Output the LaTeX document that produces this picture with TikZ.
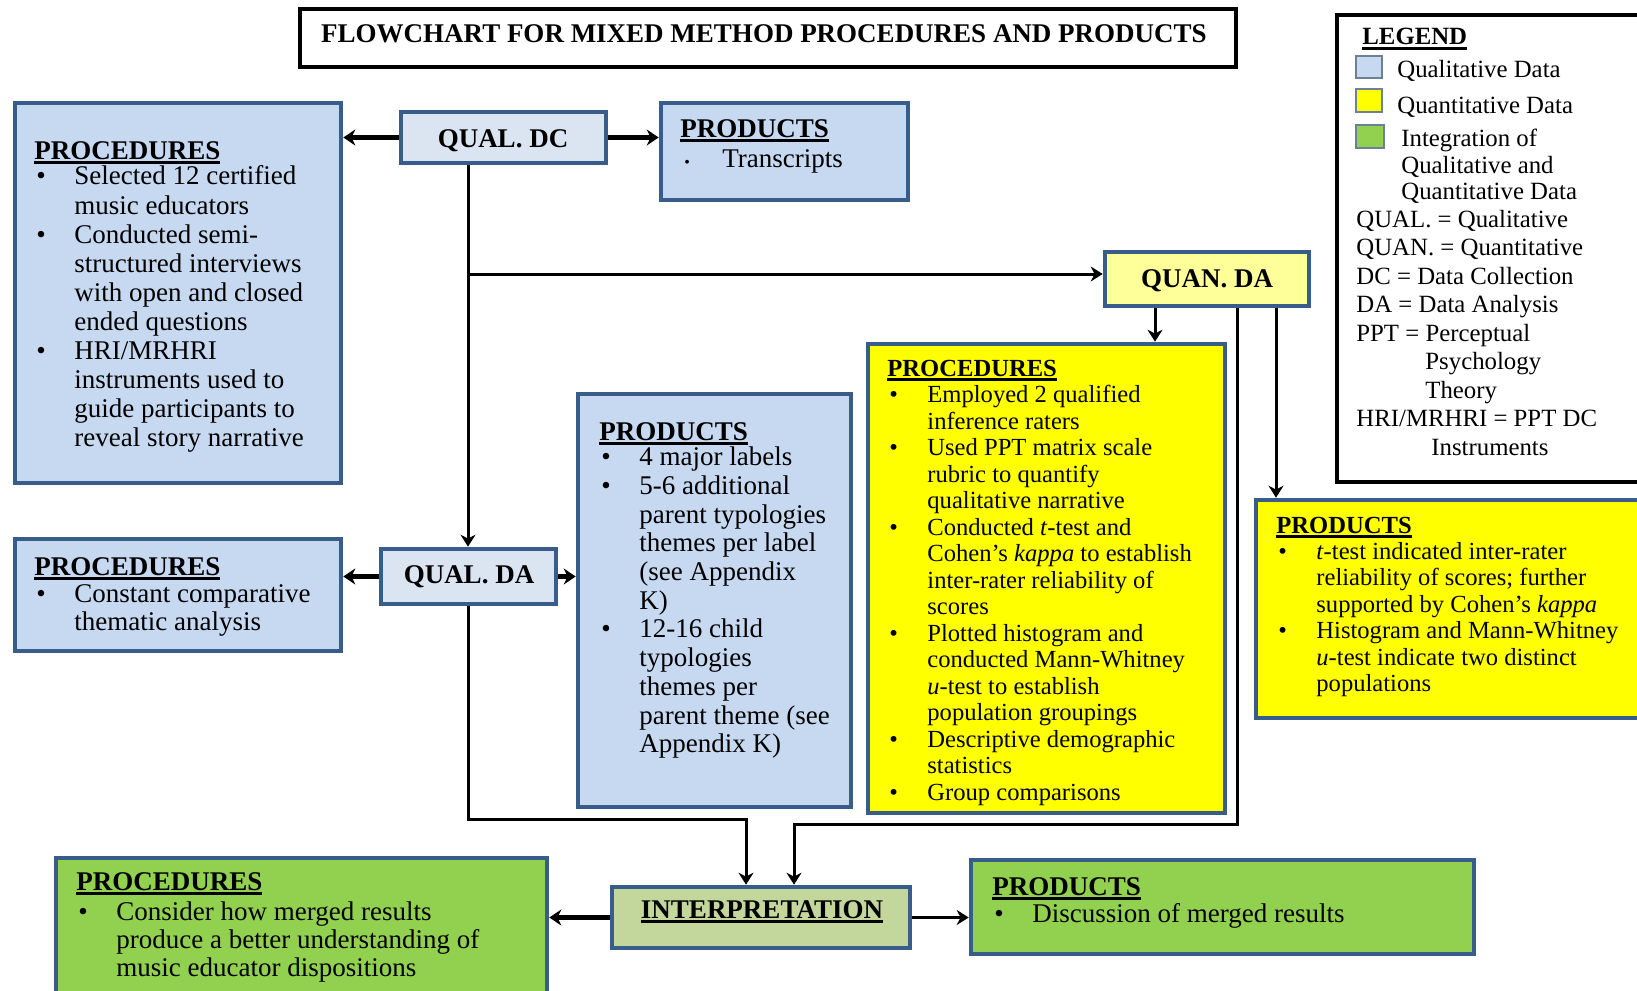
\documentclass[tikz,border=0pt]{standalone}
\usepackage{fontspec}
\setmainfont{Liberation Serif}
\usetikzlibrary{arrows.meta,fit}
\definecolor{bord}{HTML}{385D8A}
\definecolor{qualf}{HTML}{C6D9F1}
\definecolor{qualhf}{HTML}{DBE5F1}
\definecolor{quanf}{HTML}{FFFF00}
\definecolor{quanhf}{HTML}{FFFF99}
\definecolor{intf}{HTML}{92D050}
\definecolor{inthf}{HTML}{C3D69B}
\definecolor{swb}{HTML}{6D7F99}
\newlength\bulw
\setlength\bulw{20pt}
\newcommand\ulh[1]{\setbox0=\hbox{\bfseries #1}\rlap{\rule[-2.3pt]{\wd0}{1.2pt}}\box0}
\newcommand\hdl[2][0pt]{\hbox{\ulh{#2}}\vskip#1\relax}
\newcommand\BulL[1]{\hbox{\makebox[\bulw][l]{\hspace{1pt}\textbullet}#1}}
\newcommand\ConL[1]{\hbox{\hspace*{\bulw}#1}}
\newcommand\blk[2]{\vtop{\baselineskip=#1\relax\lineskiplimit=-100pt\lineskip=0pt\relax #2}}
\tikzset{
 bx/.style={draw=bord, line width=2.3pt, inner sep=0pt},
 qlbox/.style={bx, fill=qualf},
 qlhbox/.style={bx, fill=qualhf},
 qnbox/.style={bx, fill=quanf},
 qnhbox/.style={bx, fill=quanhf},
 inbox/.style={bx, fill=intf},
 inhbox/.style={bx, fill=inthf},
 txa/.style={inner sep=0pt, anchor=base west, font=\fontsize{13.5pt}{15pt}\selectfont},
 txb/.style={inner sep=0pt, anchor=base west, font=\fontsize{12.3pt}{14pt}\selectfont},
 txl/.style={inner sep=0pt, anchor=base west, font=\fontsize{12.4pt}{14pt}\selectfont},
 lab/.style={inner sep=0pt, anchor=base, font=\fontsize{13.5pt}{15pt}\selectfont\bfseries},
 conn/.style={line width=1.5pt},
 arr/.style={conn, -{Stealth[length=6pt,width=7.5pt]}},
 thkarr/.style={line width=2.6pt, -{Stealth[length=6pt,width=8pt]}},
}
\begin{document}
\begin{tikzpicture}[x=0.5pt,y=-0.5pt]
\useasboundingbox (0,0) rectangle (1637,990);
\fill[white] (0,0) rectangle (1637,990);
\clip (0,0) rectangle (1637,990);

% title
\node[draw, line width=1.6pt, inner sep=0pt, fit={(300,9) (1236,67)}] (titlebox) {};
\node[lab] (title) at (764,43) {FLOWCHART FOR MIXED METHOD PROCEDURES AND PRODUCTS};

% legend
\node[draw, line width=1.6pt, inner sep=0pt, fit={(1337,15) (1700,482)}] (legendbox) {};
\node[txl] (legt) at (1362,45) {\ulh{LEGEND}};
\draw[draw=swb, line width=1.1pt, fill=qualf] (1356,56) rectangle (1382,78);
\draw[draw=swb, line width=1.1pt, fill=quanf] (1356,89) rectangle (1382,112);
\draw[draw=swb, line width=1.1pt, fill=intf] (1356,125) rectangle (1384,148);
\node[txl] (leg1) at (1397,78) {Qualitative Data};
\node[txl] (leg2) at (1397,113) {Quantitative Data};
\node[txl] (leg3) at (1401,147) {\blk{13.25pt}{\hbox{Integration of}\hbox{Qualitative and}\hbox{Quantitative Data}}};
\node[txl] (leg4) at (1356,227) {\blk{14.25pt}{\hbox{QUAL. = Qualitative}\hbox{QUAN. = Quantitative}\hbox{DC = Data Collection}\hbox{DA = Data Analysis}\hbox{PPT = Perceptual}\hbox{\hspace*{34.5pt}Psychology}\hbox{\hspace*{34.5pt}Theory}\hbox{HRI/MRHRI = PPT DC}\hbox{\hspace*{37.5pt}Instruments}}};

% boxes
\node[qlbox, fit={(15,103) (341,483)}] (procdc) {};
\node[qlhbox, fit={(401,112) (606,163)}] (qualdc) {};
\node[qlbox, fit={(661,103) (908,200)}] (proddc) {};
\node[qnhbox, fit={(1105,252) (1309,306)}] (quanda) {};
\node[qnbox, fit={(868,344) (1225,813)}] (quanproc) {};
\node[qnbox, fit={(1256,500) (1700,718)}] (quanprod) {};
\node[qlhbox, fit={(381,549) (556,604)}] (qualda) {};
\node[qlbox, fit={(15,539) (341,651)}] (procda) {};
\node[qlbox, fit={(578,394) (851,807)}] (prodda) {};
\node[inhbox, fit={(612,887) (910,948)}] (interp) {};
\node[inbox, fit={(56,858) (547,1005)}] (greenproc) {};
\node[inbox, fit={(971,860) (1474,954)}] (greenprod) {};

% labels
\node[lab] (qualdct) at (503,148) {QUAL. DC};
\node[lab] (quandat) at (1207,287) {QUAN. DA};
\node[lab] (qualdat) at (469,583) {QUAL. DA};
\node[lab] (interpt) at (762,918) {\ulh{INTERPRETATION}};

% texts
\node[txa] (procdct) at (34,159) {\blk{14.5pt}{\hdl[-1.5pt]{PROCEDURES}
 \BulL{Selected 12 certified}\ConL{music educators}
 \BulL{Conducted semi-}\ConL{structured interviews}\ConL{with open and closed}\ConL{ended questions}
 \BulL{HRI/MRHRI}\ConL{instruments used to}\ConL{guide participants to}\ConL{reveal story narrative}}};
\node[txa] (proddct) at (680,137) {\blk{15pt}{\hdl{PRODUCTS}
 \hbox{\makebox[21pt][l]{\hspace{2pt}{\fontsize{8pt}{8pt}\selectfont\textbullet}}Transcripts}}};
\node[txa] (procdat) at (34,575) {\blk{14pt}{\hdl[-0.5pt]{PROCEDURES}
 \BulL{Constant comparative}\ConL{thematic analysis}}};
\node[txa] (proddat) at (599,440) {\blk{14.35pt}{\hdl[-1.5pt]{PRODUCTS}
 \BulL{4 major labels}
 \BulL{5-6 additional}\ConL{parent typologies}\ConL{themes per label}\ConL{(see Appendix}\ConL{K)}
 \BulL{12-16 child}\ConL{typologies}\ConL{themes per}\ConL{parent theme (see}\ConL{Appendix K)}}};
\node[txb] (quanproct) at (887,376) {\blk{13.25pt}{\hdl{PROCEDURES}
 \BulL{Employed 2 qualified}\ConL{inference raters}
 \BulL{Used PPT matrix scale}\ConL{rubric to quantify}\ConL{qualitative narrative}
 \BulL{Conducted \textit{t}-test and}\ConL{Cohen’s \textit{kappa} to establish}\ConL{inter-rater reliability of}\ConL{scores}
 \BulL{Plotted histogram and}\ConL{conducted Mann-Whitney}\ConL{\textit{u}-test to establish}\ConL{population groupings}
 \BulL{Descriptive demographic}\ConL{statistics}
 \BulL{Group comparisons}}};
\node[txb] (quanprodt) at (1276,533) {\blk{13.2pt}{\hdl{PRODUCTS}
 \BulL{\textit{t}-test indicated inter-rater}\ConL{reliability of scores; further}\ConL{supported by Cohen’s \textit{kappa}}
 \BulL{Histogram and Mann-Whitney}\ConL{\textit{u}-test indicate two distinct}\ConL{populations}}};
\node[txa] (greenproct) at (76,890) {\blk{14pt}{\hdl[1pt]{PROCEDURES}
 \BulL{Consider how merged results}\ConL{produce a better understanding of}\ConL{music educator dispositions}}};
\node[txa] (greenprodt) at (992,895) {\blk{13.5pt}{\hdl{PRODUCTS}
 \BulL{Discussion of merged results}}};

% connectors
\coordinate (tk) at (468,0);
\coordinate (br) at (468,274);
\coordinate (qx) at (1155,0);
\coordinate (px) at (1276,0);
\coordinate (mr) at (1237,824);
\coordinate (ir) at (794,824);
\coordinate (ml) at (468,819);
\coordinate (il) at (746,819);
\draw[thkarr] (qualdc.west) -- (qualdc.west -| procdc.east);
\draw[thkarr] (qualdc.east) -- (qualdc.east -| proddc.west);
\draw[arr] (tk |- qualdc.south) -- (tk |- qualda.north);
\draw[arr] (br) -- (br -| quanda.west);
\draw[arr] (qx |- quanda.south) -- (qx |- quanproc.north);
\draw[arr] (px |- quanda.south) -- (px |- quanprod.north);
\draw[arr] (mr |- quanda.south) -- (mr) -- (ir) -- (ir |- interp.north);
\draw[arr] (tk |- qualda.south) -- (ml) -- (il) -- (il |- interp.north);
\draw[thkarr] (qualda.west) -- (qualda.west -| procda.east);
\draw[thkarr] (qualda.east) -- (qualda.east -| prodda.west);
\draw[thkarr] (interp.west) -- (interp.west -| greenproc.east);
\draw[arr] (interp.east) -- (interp.east -| greenprod.west);
\end{tikzpicture}
\end{document}
